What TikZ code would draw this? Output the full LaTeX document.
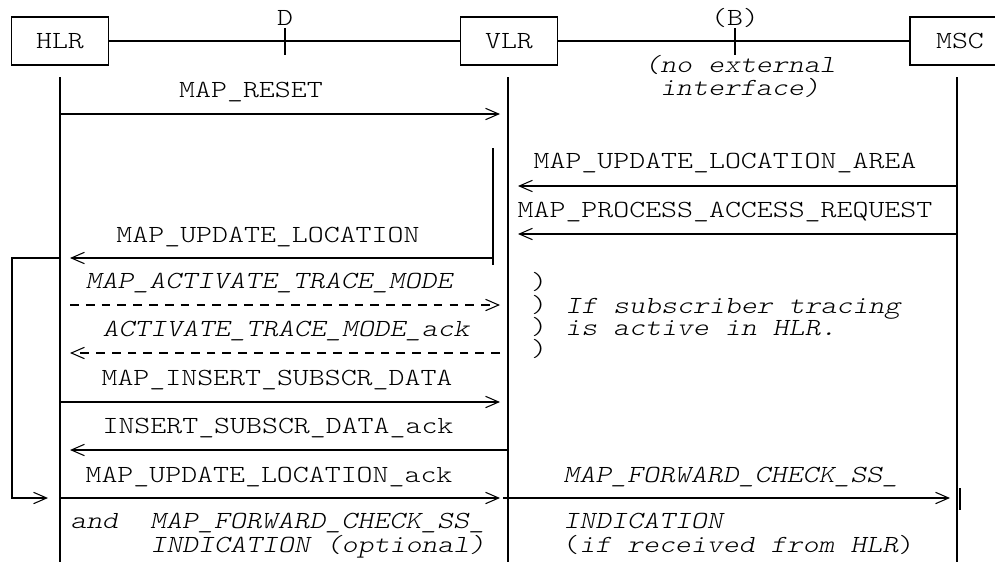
\documentclass[tikz,border=0pt]{standalone}
\usepackage{fontspec}
\setmainfont{lmmonolt10-regular}[Extension=.otf, ItalicFont=lmmonolt10-oblique, FakeStretch=1.235]
\usetikzlibrary{arrows.meta}

\begin{document}
\begin{tikzpicture}[x=0.02cm, y=-0.02cm,
  every node/.style={font=\fontsize{14}{17}\selectfont, inner sep=0pt},
  entity/.style={draw, line width=1.1pt, minimum width=1.94cm, minimum height=0.96cm},
  life/.style={line width=0.8pt},
  msg/.style={line width=1.1pt, -{Straight Barb[length=7.5pt,width=6.5pt,line width=0.6pt] .}},
  opt/.style={msg, line width=0.6pt, dash pattern=on 5pt off 4pt},
  lbl/.style={anchor=base},
  ilbl/.style={anchor=base, font=\fontsize{14}{17}\selectfont\itshape},
  note/.style={anchor=base west, font=\fontsize{14}{17}\selectfont\itshape}]
  \useasboundingbox (0,0) rectangle (995,562);

  \node[entity] (hlr) at (60,41) {HLR};
  \node[entity] (vlr) at (509,41) {VLR};
  \node[entity, minimum width=2cm] (msc) at (960,41) {MSC};
  \draw[line width=1.1pt] (hlr) -- (vlr);
  \draw[line width=1.1pt] (vlr) -- (msc);
  \draw[line width=1.1pt] (285,28) -- (285,55); \node[lbl] (dif) at (285,25) {D};
  \draw[line width=1.1pt] (735,28) -- (735,55); \node[lbl] (bif) at (735,25) {(B)};
  \node[ilbl] (noext1) at (740,72) {(no external};
  \node[ilbl] (noext2) at (740,95) {interface)};

  \coordinate (hlr-top) at (60,77);  \coordinate (hlr-bot) at (60,562);
  \coordinate (vlr-top) at (508,77); \coordinate (vlr-bot) at (508,562);
  \coordinate (msc-top) at (957,77); \coordinate (msc-bot) at (957,562);
  \draw[life] (hlr-top) -- (hlr-bot);
  \draw[life] (vlr-top) -- (vlr-bot);
  \draw[life] (msc-top) -- (msc-bot);
  \draw[life] (493,148) -- (493,265);

  \coordinate (reset-a) at (60,114);  \coordinate (reset-b) at (500,114);
  \draw[msg] (reset-a) -- (reset-b);
  \node[lbl] (reset) at (251,97) {MAP\_RESET};

  \coordinate (mula-a) at (957,186); \coordinate (mula-b) at (518,186);
  \draw[msg] (mula-a) -- (mula-b);
  \node[lbl] (mula) at (725,168) {MAP\_UPDATE\_LOCATION\_AREA};

  \coordinate (mpar-a) at (957,234); \coordinate (mpar-b) at (518,234);
  \draw[msg] (mpar-a) -- (mpar-b);
  \node[lbl] (mpar) at (725,217) {MAP\_PROCESS\_ACCESS\_REQUEST};

  \coordinate (mul-a) at (493,258); \coordinate (mul-b) at (70,258);
  \draw[msg] (mul-a) -- (mul-b);
  \node[lbl] (mul) at (268,242) {MAP\_UPDATE\_LOCATION};

  \coordinate (loop-a) at (60,258); \coordinate (loop-c) at (12,498); \coordinate (loop-b) at (48,498);
  \draw[msg] (loop-a) -| (loop-c) -- (loop-b);

  \coordinate (matm-a) at (70,305); \coordinate (matm-b) at (500,305);
  \draw[opt] (matm-a) -- (matm-b);
  \node[ilbl] (matm) at (269,288) {MAP\_ACTIVATE\_TRACE\_MODE};

  \coordinate (atma-a) at (500,353); \coordinate (atma-b) at (70,353);
  \draw[opt] (atma-a) -- (atma-b);
  \node[ilbl] (atma) at (286,336) {ACTIVATE\_TRACE\_MODE\_ack};

  \foreach \y [count=\i] in {289,312,334,356}
    \node[lbl] (par\i) at (539,\y) {)};
  \node[note] (trace1) at (565,313) {If subscriber tracing};
  \node[note] (trace2) at (565,335) {is active in HLR.};

  \coordinate (misd-a) at (60,402); \coordinate (misd-b) at (500,402);
  \draw[msg] (misd-a) -- (misd-b);
  \node[lbl] (misd) at (277,385) {MAP\_INSERT\_SUBSCR\_DATA};

  \coordinate (isda-a) at (508,450); \coordinate (isda-b) at (70,450);
  \draw[msg] (isda-a) -- (isda-b);
  \node[lbl] (isda) at (278,433) {INSERT\_SUBSCR\_DATA\_ack};

  \coordinate (mula2-a) at (60,498); \coordinate (mula2-b) at (500,498);
  \draw[msg] (mula2-a) -- (mula2-b);
  \node[lbl] (mulack) at (269,482) {MAP\_UPDATE\_LOCATION\_ack};
  \draw[line width=1.1pt] (508,488) -- (508,510);

  \coordinate (fwd-a) at (503,498); \coordinate (fwd-b) at (950,498);
  \draw[msg] (fwd-a) -- (fwd-b);
  \draw[line width=1.1pt] (960,488) -- (960,510);
  \node[note] (fwd1) at (563,482) {MAP\_FORWARD\_CHECK\_SS\_};
  \node[note] (fwd2) at (563,528) {INDICATION};
  \node[note] (fwd3) at (563,552) {\upshape(\itshape if received from HLR\upshape)};

  \node[note] (opt1) at (70,528) {and\ \ MAP\_FORWARD\_CHECK\_SS\_};
  \node[note] (opt2) at (150,552) {INDICATION (optional)};
\end{tikzpicture}
\end{document}
